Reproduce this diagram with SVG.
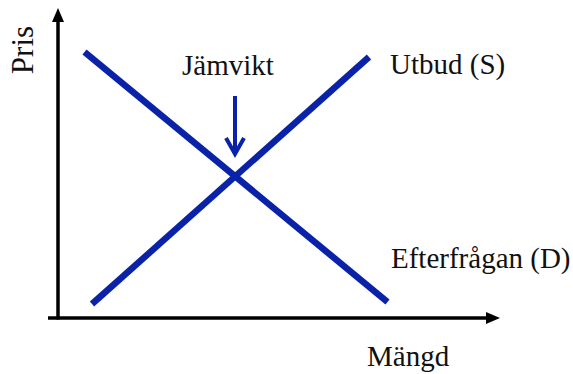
<svg xmlns="http://www.w3.org/2000/svg" width="573" height="374" viewBox="0 0 573 374">
<style>
.axis{stroke:#000;stroke-width:3.5;fill:none}
.head{fill:#000}
.curve{stroke:#0a22a8;stroke-width:6.5;fill:none}
.lbl{font-family:"Liberation Serif","DejaVu Serif",serif;font-size:29px;fill:#111}
</style>
<rect width="573" height="374" fill="#fff"/>
<g id="connectors">
<line class="axis" x1="58" y1="319.5" x2="58" y2="20"/>
<polygon class="head" points="58,8 52,22 64,22"/>
<line class="axis" x1="48" y1="318" x2="488" y2="318"/>
<polygon class="head" points="500,318 486,312 486,324"/>
<line class="curve" x1="84.5" y1="52" x2="387.5" y2="302"/>
<line class="curve" x1="92" y1="304" x2="369" y2="57"/>
<line x1="235" y1="96" x2="235" y2="152" stroke="#0a22a8" stroke-width="4"/>
<polyline points="226,138 235,154 244,138" fill="none" stroke="#0a22a8" stroke-width="4"/>
</g>
<g id="pris"><text class="lbl" transform="translate(33,50) rotate(-90)" text-anchor="middle" style="font-size:31px">Pris</text></g>
<g id="jamvikt"><text class="lbl" x="182" y="75">Jämvikt</text></g>
<g id="utbud"><text class="lbl" x="390" y="74">Utbud (S)</text></g>
<g id="efterfragan"><text class="lbl" x="391" y="268">Efterfrågan (D)</text></g>
<g id="mangd"><text class="lbl" x="367" y="366">Mängd</text></g>
</svg>
